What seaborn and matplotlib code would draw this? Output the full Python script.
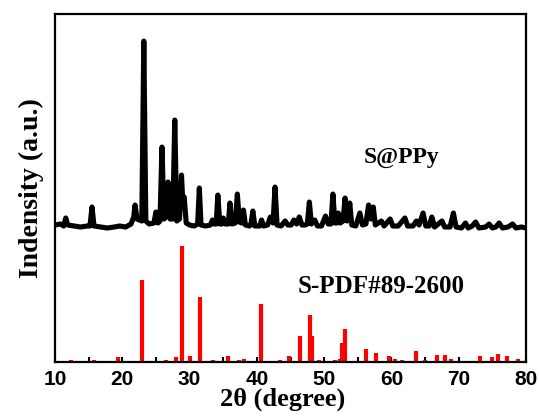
import numpy as np
import pandas as pd
import matplotlib
matplotlib.use("Agg")
import matplotlib.pyplot as plt
import seaborn as sns
from matplotlib.ticker import MultipleLocator

# ---- data ----
# S@PPy measured pattern (2theta, intensity above its own baseline offset)
ppy_2theta = [10.0, 10.8, 11.3, 11.6, 11.9, 12.8, 13.8, 14.8, 15.2, 15.5, 15.8, 16.8, 17.8, 18.8,
              19.6, 20.5, 21.3, 21.7, 21.9, 22.2, 22.9, 23.2, 23.5, 24.0, 24.7, 25.0, 25.3, 25.6,
              25.9, 26.2, 26.5, 26.8, 27.1, 27.5, 27.8, 28.1, 28.5, 28.8, 29.0, 29.2, 29.5, 30.0,
              30.7, 31.2, 31.45, 31.7, 32.4, 33.1, 33.4, 33.7, 33.95, 34.2, 34.5, 34.8, 35.0, 35.3,
              35.75, 36.0, 36.3, 36.8, 37.1, 37.4, 37.75, 38.0, 38.3, 38.9, 39.1, 39.4, 39.7, 40.4,
              40.7, 41.0, 41.6, 42.0, 42.4, 42.7, 43.0, 43.6, 44.2, 44.6, 45.1, 45.5, 45.9, 46.3,
              46.7, 47.2, 47.5, 47.8, 48.1, 48.6, 49.0, 49.6, 50.2, 50.6, 51.0, 51.3, 51.6, 51.9,
              52.1, 52.4, 52.8, 53.1, 53.4, 53.6, 53.8, 54.1, 54.7, 55.3, 55.7, 56.2, 56.6, 56.95,
              57.3, 57.6, 58.5, 58.9, 59.8, 60.2, 61.0, 62.0, 62.4, 63.2, 63.7, 64.1, 64.7, 65.1,
              65.6, 66.0, 66.4, 67.5, 67.9, 68.7, 69.2, 69.6, 70.4, 71.0, 71.4, 72.0, 72.5, 73.0,
              74.0, 74.5, 75.0, 75.5, 76.0, 76.5, 77.3, 78.0, 78.5, 79.3, 80.0]
ppy_intensity = [4, 5, 3, 11, 4, 3, 2, 3, 3, 22, 3, 2, 1, 2,
                 3, 2, 5, 12, 24, 10, 8, 188, 8, 5, 6, 17, 6, 8,
                 82, 10, 12, 47, 10, 10, 109, 8, 10, 54, 25, 32, 6, 4,
                 3, 5, 41, 4, 3, 4, 9, 5, 5, 34, 5, 5, 11, 5,
                 5, 26, 5, 6, 35, 7, 6, 19, 4, 3, 4, 18, 3, 3,
                 9, 3, 4, 12, 6, 42, 4, 3, 8, 4, 4, 9, 5, 12,
                 4, 4, 5, 27, 5, 9, 3, 3, 13, 5, 5, 35, 6, 6,
                 16, 6, 8, 31, 8, 9, 26, 4, 3, 16, 4, 5, 24, 10,
                 22, 4, 8, 3, 10, 3, 3, 11, 3, 3, 8, 4, 16, 3,
                 3, 12, 2, 8, 2, 2, 16, 2, 1, 6, 1, 3, 7, 1,
                 2, 5, 1, 2, 6, 1, 2, 5, 1, 2, 1]

# Reference card S-PDF#89-2600 (2theta, relative intensity)
pdf_2theta = [12.4, 15.8, 19.4, 23.0, 26.5, 28.0, 28.9, 30.1, 31.6, 33.5, 35.7, 37.4, 38.1,
              40.6, 43.4, 44.8, 46.4, 47.9, 48.2, 49.2, 51.6, 52.3, 52.7, 53.1, 54.6, 56.2,
              57.7, 59.7, 60.5, 61.5, 63.7, 65.0, 66.7, 67.9, 68.8, 73.1, 74.9, 75.9, 77.1, 78.8]
pdf_intensity = [2, 2, 5, 82, 2, 5, 116, 6, 65, 2, 6, 2, 3,
                 58, 2, 6, 26, 47, 26, 2, 2, 3, 19, 33, 1, 13,
                 9, 6, 3, 2, 11, 2, 7, 7, 3, 6, 5, 8, 6, 3]

xticks = [10, 20, 30, 40, 50, 60, 70, 80]
label_ppy = "S@PPy"
label_pdf = "S-PDF#89-2600"
xlabel = "2θ (degree)"
ylabel = "Indensity (a.u.)"

# ---- style ----
sns.set_theme(style="white")
plt.rcParams["font.family"] = ["Liberation Serif", "DejaVu Serif"]
plt.rcParams["text.color"] = "black"
plt.rcParams["axes.labelcolor"] = "black"
plt.rcParams["xtick.color"] = "black"

ppy_offset = 133

fig = plt.figure(figsize=(5.39, 4.16), dpi=100)
ax = fig.add_axes([0.102, 0.130, 0.874, 0.836])

df = pd.DataFrame({"x": ppy_2theta, "y": np.array(ppy_intensity) + ppy_offset})
sns.lineplot(data=df, x="x", y="y", ax=ax, color="black", linewidth=3.7,
             sort=False, estimator=None)

ax.vlines(pdf_2theta, 0, pdf_intensity, colors="red", linewidth=3.0)

ax.set_xlim(10, 80)
ax.set_ylim(0, 348)
ax.set_xticks(xticks)
ax.xaxis.set_minor_locator(MultipleLocator(5))
ax.set_yticks([])

for s in ax.spines.values():
    s.set_linewidth(1.6)
    s.set_color("black")

ax.tick_params(axis="x", which="both", direction="in", length=3.5, width=1.5,
               colors="black", labelcolor="black", pad=6, bottom=True, top=False)
for lab in ax.get_xticklabels():
    lab.set_fontfamily(["Liberation Sans", "DejaVu Sans"])
    lab.set_fontweight("bold")
    lab.set_fontsize(15)
    lab.set_color("black")

ax.set_xlabel(xlabel, fontsize=19, fontweight="bold", labelpad=-1, color="black")
ax.xaxis.set_label_coords(0.483, -0.075)
ax.set_ylabel(ylabel, fontsize=20, fontweight="bold", labelpad=8, color="black")

ax.text(0.735, 0.589, label_ppy, transform=ax.transAxes, ha="center", va="center",
        fontsize=17, fontweight="bold", color="black")
ax.text(0.693, 0.216, label_pdf, transform=ax.transAxes, ha="center", va="center",
        fontsize=18, fontweight="bold", color="black")

fig.savefig("out.png", dpi=100)
